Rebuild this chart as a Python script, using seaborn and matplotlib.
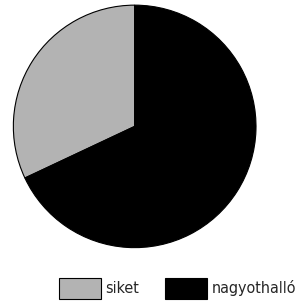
import seaborn as sns
import matplotlib.pyplot as plt
from matplotlib.patches import Patch
from matplotlib.font_manager import FontProperties

labels = ["siket", "nagyothalló"]
values = [32, 68]
colors = ["#b3b3b3", "#000000"]

sns.set_theme(style="white")
plt.rcParams['font.family'] = ['Liberation Sans Narrow', 'DejaVu Sans']

fig = plt.figure(figsize=(2.96, 3.02), dpi=100)
ax = fig.add_axes([0.041, 0.176, 0.828, 0.811])
ax.pie(values, colors=colors, startangle=90, counterclock=True,
       wedgeprops={"edgecolor": "black", "linewidth": 0.8})
ax.set_xlim(-1.01, 1.01)
ax.set_ylim(-1.01, 1.01)
ax.set_aspect("auto")
ax.axis("off")

font = FontProperties(family=['DejaVu Sans'], stretch="condensed", size=11.5)
handles = [Patch(facecolor=c, edgecolor="black", linewidth=0.8) for c in colors]
fig.legend(handles, labels, loc="lower right", bbox_to_anchor=(1.0, 3 / 302),
           ncol=2, frameon=False, prop=font, handlelength=2.63, handleheight=1.69,
           handletextpad=0.31, columnspacing=1.57, borderpad=0, borderaxespad=0)

fig.savefig("out.png", dpi=100)
